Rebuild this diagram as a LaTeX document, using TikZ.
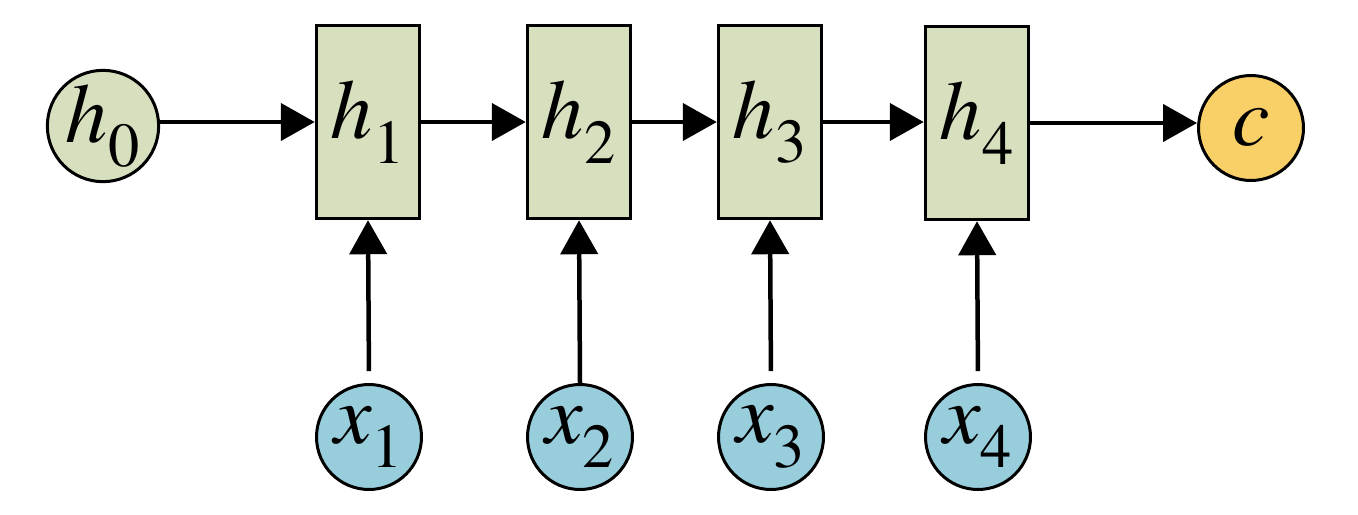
\documentclass[tikz,border=0pt]{standalone}
\usepackage{amsmath}
\usepackage{mathptmx}
\usepackage{tikz}
\usetikzlibrary{arrows.meta}
\definecolor{colh}{HTML}{D6E0BE}
\definecolor{colx}{HTML}{98CEDC}
\definecolor{colc}{HTML}{F9CF68}
\newcommand{\lbl}[2]{$#1_{\lower0.14em\hbox{$\scriptstyle #2$}}$}

\begin{document}
\begin{tikzpicture}[x=0.02cm, y=-0.02cm]
    \tikzstyle{hbox} += [draw=black, line width=0.07cm, fill=colh, minimum width=2.06cm, minimum height=3.86cm, inner sep=0pt, font=\fontsize{48}{50}\selectfont];
    \tikzstyle{cnode} += [draw=black, line width=0.06cm, circle, minimum size=2.1cm, inner sep=0pt, font=\fontsize{48}{50}\selectfont];
    \useasboundingbox (0,0) rectangle (1358,514);
    \node (h0) at ( 103, 126) [cnode, fill=colh]{\lbl{h}{0}};
    \node (h1) at ( 368, 122) [hbox]{\lbl{h}{1}};
    \node (h2) at ( 579, 122) [hbox]{\lbl{h}{2}};
    \node (h3) at ( 770, 122) [hbox]{\lbl{h}{3}};
    \node (h4) at ( 977, 123) [hbox]{\lbl{h}{4}};
    \node (c)  at (1251, 128) [cnode, fill=colc]{$c$};
    \node (x1) at ( 369, 437) [cnode, fill=colx]{\lbl{x}{1}};
    \node (x2) at ( 580, 437) [cnode, fill=colx]{\lbl{x}{2}};
    \node (x3) at ( 771, 437) [cnode, fill=colx]{\lbl{x}{3}};
    \node (x4) at ( 978, 437) [cnode, fill=colx]{\lbl{x}{4}};

    \begin{scope}[line width=0.09cm, -{Triangle[length=0.68cm, width=0.74cm]}]
      \draw (h1.west -| h0.east) -- (h1.west);
      \draw (h1) -- (h1 -| h2.west);
      \draw (h2) -- (h2 -| h3.west);
      \draw (h3) -- (h3 -| h4.west);
      \draw (h4) -- (h4 -| c.west);

      \draw[shorten <=0.24cm] (x1.north) -- (h1.south);
      \draw                   (x2.north) -- (h2.south);
      \draw[shorten <=0.24cm] (x3.north) -- (h3.south);
      \draw[shorten <=0.24cm] (x4.north) -- (h4.south);
    \end{scope}
  \end{tikzpicture}
\end{document}
